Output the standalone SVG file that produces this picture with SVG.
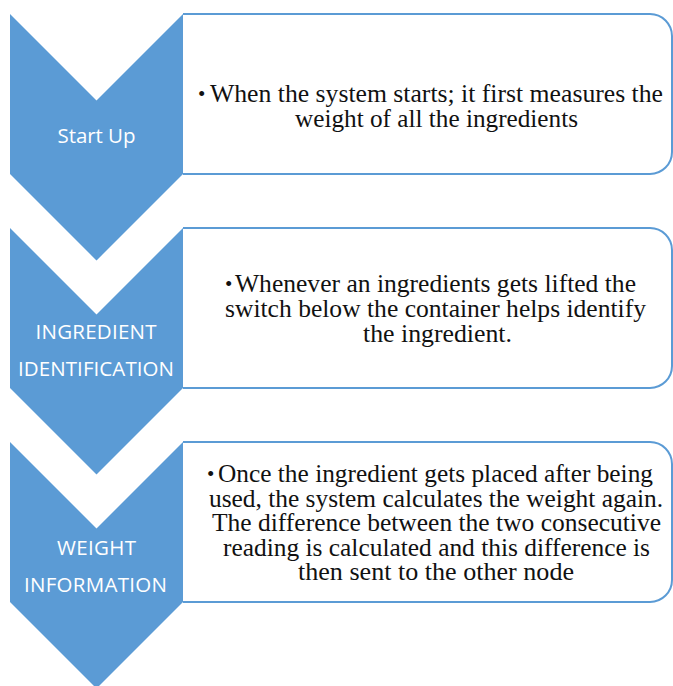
<svg xmlns="http://www.w3.org/2000/svg" width="673" height="686" viewBox="0 0 673 686">
  <style>
    .panel { fill: #ffffff; stroke: #5b9bd5; stroke-width: 2; }
    .chevron { fill: #5b9bd5; stroke: none; }
    .label { font-family: "Open Sans", "Liberation Sans", sans-serif; font-size: 20.5px; fill: #ffffff; text-anchor: middle; }
    .body { font-family: "Liberation Serif", "DejaVu Serif", serif; font-size: 25px; fill: #111111; }
    .bullet { font-family: "Liberation Serif", "DejaVu Serif", serif; font-size: 21px; fill: #111111; }
  </style>
  <rect width="673" height="686" fill="#ffffff"/>

  <!-- Step 1 -->
  <g id="step-startup">
    <path class="panel" d="M183,14 H650 A22,22 0 0 1 672,36 V152 A22,22 0 0 1 650,174 H183"/>
    <path class="chevron" d="M10,14 L96.5,100.5 L183,14 V174 L96.5,260.5 L10,174 Z"/>
    <text class="label" x="96.5" y="143" textLength="78">Start Up</text>
    <text class="bullet" x="198" y="101">•</text>
    <text class="body" x="210" y="102" textLength="453" lengthAdjust="spacingAndGlyphs">When the system starts; it first measures the</text>
    <text class="body" x="295" y="127" textLength="283" lengthAdjust="spacingAndGlyphs">weight of all the ingredients</text>
  </g>

  <!-- Step 2 -->
  <g id="step-identification">
    <path class="panel" d="M183,228 H650 A22,22 0 0 1 672,250 V366 A22,22 0 0 1 650,388 H183"/>
    <path class="chevron" d="M10,228 L96.5,314.5 L183,228 V388 L96.5,474.5 L10,388 Z"/>
    <text class="label" x="96" y="339" textLength="121">INGREDIENT</text>
    <text class="label" x="96" y="376" textLength="156">IDENTIFICATION</text>
    <text class="bullet" x="225" y="291">•</text>
    <text class="body" x="235" y="292" textLength="401" lengthAdjust="spacingAndGlyphs">Whenever an ingredients gets lifted the</text>
    <text class="body" x="225" y="317" textLength="421" lengthAdjust="spacingAndGlyphs">switch below the container helps identify</text>
    <text class="body" x="363" y="342" textLength="149" lengthAdjust="spacingAndGlyphs">the ingredient.</text>
  </g>

  <!-- Step 3 -->
  <g id="step-weight">
    <path class="panel" d="M183,442 H650 A22,22 0 0 1 672,464 V580 A22,22 0 0 1 650,602 H183"/>
    <path class="chevron" d="M10,442 L96.5,528.5 L183,442 V602 L96.5,688.5 L10,602 Z"/>
    <text class="label" x="96.5" y="555" textLength="79">WEIGHT</text>
    <text class="label" x="95.5" y="592" textLength="143">INFORMATION</text>
    <text class="bullet" x="207" y="481">•</text>
    <text class="body" x="218" y="482" textLength="435" lengthAdjust="spacingAndGlyphs">Once the ingredient gets placed after being</text>
    <text class="body" x="209" y="506.5" textLength="454" lengthAdjust="spacingAndGlyphs">used, the system calculates the weight again.</text>
    <text class="body" x="212" y="531" textLength="449" lengthAdjust="spacingAndGlyphs">The difference between the two consecutive</text>
    <text class="body" x="223" y="555.5" textLength="427" lengthAdjust="spacingAndGlyphs">reading is calculated and this difference is</text>
    <text class="body" x="298" y="580" textLength="276" lengthAdjust="spacingAndGlyphs">then sent to the other node</text>
  </g>

  <!-- the steps follow one another directly; no separate connector lines -->
  <g id="connectors"/>
</svg>
